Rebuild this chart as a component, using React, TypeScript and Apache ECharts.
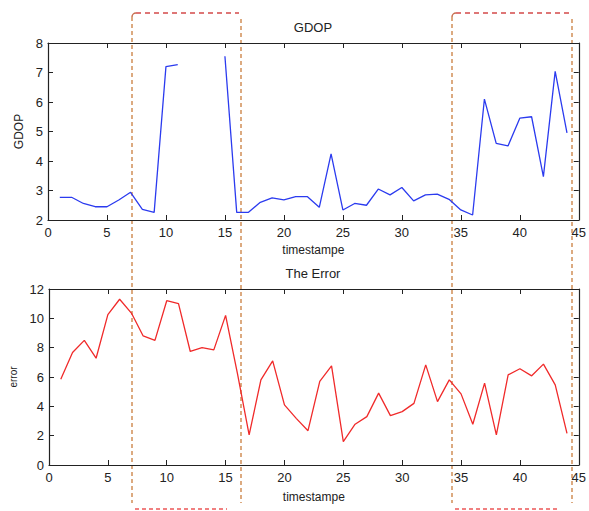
import React, { useEffect, useRef } from "react";
import * as echarts from "echarts";

const timestamps = [1,2,3,4,5,6,7,8,9,10,11,12,13,14,15,16,17,18,19,20,21,22,23,24,25,26,27,28,29,30,31,32,33,34,35,36,37,38,39,40,41,42,43,44];
const gdopValues: (number | null)[] = [2.77,2.77,2.56,2.45,2.45,2.68,2.94,2.36,2.26,7.2,7.27,null,null,null,7.55,2.26,2.26,2.6,2.75,2.68,2.79,2.79,2.43,4.24,2.34,2.56,2.5,3.05,2.85,3.1,2.65,2.85,2.88,2.7,2.34,2.17,6.1,4.6,4.51,5.45,5.5,3.47,7.04,4.95];
const errorValues = [5.85,7.67,8.5,7.28,10.25,11.3,10.36,8.8,8.5,11.2,11.0,7.74,8.0,7.85,10.2,6.26,2.05,5.8,7.1,4.1,3.18,2.34,5.7,6.76,1.6,2.78,3.3,4.9,3.37,3.64,4.2,6.83,4.32,5.8,4.85,2.78,5.58,2.05,6.15,6.56,6.08,6.88,5.46,2.16];
const titles = ["GDOP", "The Error"];
const xName = "timestampe";
const yNames = ["GDOP", "error"];

const FONT = "Liberation Sans, Arial, sans-serif";
const AX = "#222";

function dashedRect(l: number, r: number, t: number, b: number) {
  const orange = "#dcaa80";
  const red = "#d44a4a";
  return [
    { type: "line", shape: { x1: l, y1: t + 4, x2: l, y2: b - 6 }, style: { stroke: orange, lineWidth: 2, lineDash: [4, 3] }, silent: true },
    { type: "line", shape: { x1: r, y1: t + 6, x2: r, y2: b - 6 }, style: { stroke: orange, lineWidth: 2, lineDash: [4, 3] }, silent: true },
    { type: "line", shape: { x1: l + 4, y1: t, x2: r - 2, y2: t }, style: { stroke: red, lineWidth: 1.5, lineDash: [5, 4] }, silent: true },
    { type: "arc", shape: { cx: l + 4, cy: t + 4, r: 4, startAngle: Math.PI, endAngle: Math.PI * 1.5 }, style: { stroke: "#c87050", lineWidth: 1.5, fill: "none" }, silent: true },
    { type: "line", shape: { x1: l + 3, y1: b, x2: r - 14, y2: b }, style: { stroke: "#f08080", lineWidth: 2, lineDash: [4, 3] }, silent: true },
  ];
}

export default function App() {
  const ref = useRef<HTMLDivElement>(null);
  useEffect(() => {
    document.body.style.margin = "0";
    const chart = echarts.init(ref.current!, null, { renderer: "svg" });
    const xBase = (gi: number, gap: number) => [
      {
        type: "value", gridIndex: gi, min: 0, max: 45, interval: 5, position: "bottom",
        name: xName, nameLocation: "middle", nameGap: gap,
        nameTextStyle: { fontFamily: FONT, fontSize: 12, color: AX },
        axisLine: { onZero: false, lineStyle: { color: AX, width: 1.2 } },
        axisTick: { inside: true, length: 5, lineStyle: { color: AX } },
        axisLabel: { fontFamily: FONT, fontSize: 13, color: AX, margin: 6 },
        splitLine: { show: false },
      },
      {
        type: "value", gridIndex: gi, min: 0, max: 45, interval: 5, position: "top",
        axisLine: { onZero: false, lineStyle: { color: AX, width: 1.2 } },
        axisTick: { inside: true, length: 5, lineStyle: { color: AX } },
        axisLabel: { show: false }, splitLine: { show: false },
      },
    ];
    const yBase = (gi: number, min: number, max: number, interval: number, name: string, nameSize: number, gap: number) => [
      {
        type: "value", gridIndex: gi, min, max, interval, position: "left",
        name, nameLocation: "middle", nameGap: gap,
        nameTextStyle: { fontFamily: FONT, fontSize: nameSize, color: AX },
        axisLine: { show: true, onZero: false, lineStyle: { color: AX, width: 1.2 } },
        axisTick: { show: true, inside: true, length: 5, lineStyle: { color: AX } },
        axisLabel: { fontFamily: FONT, fontSize: 13, color: AX, margin: 5 },
        splitLine: { show: false },
      },
      {
        type: "value", gridIndex: gi, min, max, interval, position: "right",
        axisLine: { show: true, onZero: false, lineStyle: { color: AX, width: 1.2 } },
        axisTick: { show: true, inside: true, length: 5, lineStyle: { color: AX } },
        axisLabel: { show: false }, splitLine: { show: false },
      },
    ];
    chart.setOption({
      animation: false,
      backgroundColor: "#ffffff",
      grid: [
        { left: 48, right: 6, top: 43, height: 177 },
        { left: 48, right: 6, top: 289, height: 176 },
      ],
      xAxis: [...xBase(0, 24), ...xBase(1, 26)],
      yAxis: [...yBase(0, 2, 8, 1, yNames[0], 12, 22), ...yBase(1, 0, 12, 2, yNames[1], 10, 31)],
      series: [
        {
          type: "line", xAxisIndex: 0, yAxisIndex: 0, symbol: "none", connectNulls: false,
          data: timestamps.map((t, i) => [t, gdopValues[i]]),
          lineStyle: { color: "#2b3bef", width: 1.3 },
        },
        {
          type: "line", xAxisIndex: 2, yAxisIndex: 2, symbol: "none",
          data: timestamps.map((t, i) => [t, errorValues[i]]),
          lineStyle: { color: "#f02a2a", width: 1.3 },
        },
      ],
      graphic: [
        { type: "text", x: 313, y: 27, style: { text: titles[0], textAlign: "center", textVerticalAlign: "middle", font: `13px ${FONT}`, fill: AX } },
        { type: "text", x: 313, y: 273, style: { text: titles[1], textAlign: "center", textVerticalAlign: "middle", font: `13px ${FONT}`, fill: AX } },
        ...dashedRect(132, 241, 13, 509),
        ...dashedRect(452, 572, 13, 509),
      ],
    });
    return () => chart.dispose();
  }, []);
  return <div ref={ref} style={{ width: 589, height: 511 }} />;
}
